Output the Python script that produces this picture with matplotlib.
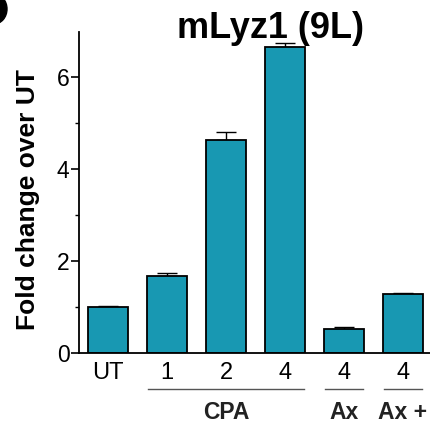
import numpy as np
import matplotlib.pyplot as plt
from matplotlib.patches import Ellipse
from matplotlib.ticker import MultipleLocator

plt.rcParams['font.family'] = ['Liberation Sans', 'DejaVu Sans']

# fold change of mLyz1 in 9L cells
labels = ['UT', '1', '2', '4', '4', '4']
values = [1.00, 1.67, 4.64, 6.66, 0.52, 1.29]
errors = [0.02, 0.07, 0.16, 0.07, 0.04, 0.02]

groups = ['CPA', 'Ax', 'Ax +']
group_spans = [(1, 3), (4, 4), (5, 5)]

barColor = '#1898b2'

fig = plt.figure(figsize=(4.3, 4.25), dpi=100)
ax = fig.add_axes([0.184, 0.169, 0.816, 0.756])

x = np.arange(len(values))
ax.bar(x, values, width=0.68, color=barColor, edgecolor='black', linewidth=1.3, zorder=2)
ax.errorbar(x, values, yerr=[np.zeros(len(errors)), errors], fmt='none',
            ecolor='black', elinewidth=1.0, capsize=7.5, capthick=1.0, zorder=1)

ax.set_xlim(-0.49, 5.46)
ax.set_ylim(0, 6.98)
ax.yaxis.set_major_locator(MultipleLocator(2))
ax.yaxis.set_minor_locator(MultipleLocator(1))
ax.tick_params(axis='y', which='major', length=6, width=1.2, labelsize=16.5, pad=1)
ax.tick_params(axis='y', which='minor', length=3, width=1.0)
ax.set_xticks(x)
ax.set_xticklabels(labels)
ax.tick_params(axis='x', length=0, labelsize=17, pad=6)

for side in ['top', 'right']:
    ax.spines[side].set_visible(False)
ax.spines['left'].set_linewidth(1.3)
ax.spines['bottom'].set_linewidth(1.3)

fig.text(16 / 430, 1 - 200 / 425, 'Fold change over UT', fontsize=19,
         fontweight='bold', rotation=90, ha='left', va='center')
fig.text(0.628, 1 - 38 / 425, 'mLyz1 (9L)', fontsize=26, fontweight='bold',
         ha='center', va='baseline')

# group lines and names under the tick labels
for name, (a, b) in zip(groups, group_spans):
    ax.plot([a - 0.32, b + 0.32], [-0.78, -0.78], color='#555555', lw=1.0,
            clip_on=False)
    ax.text((a + b) / 2, -1.28, name, fontsize=16.5, fontweight='bold',
            ha='center', va='center', color='#222222')

# panel mark cut by the corner
fig.add_artist(Ellipse((-6 / 430, 1 - 9 / 425), 26 / 430, 30 / 425,
                       color='black', transform=fig.transFigure))

fig.savefig('out.png', dpi=100)
plt.close()
